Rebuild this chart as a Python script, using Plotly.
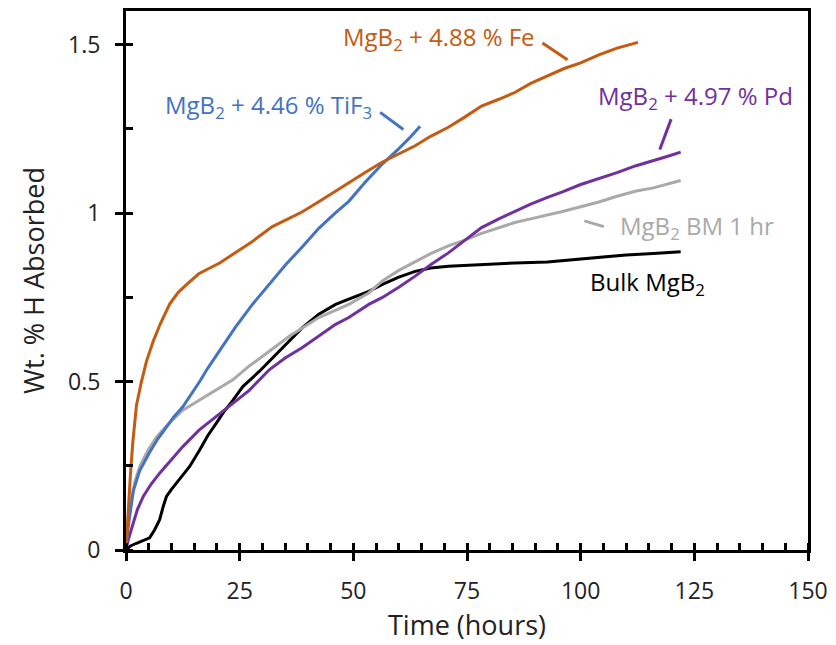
import plotly.graph_objects as go

# Hydrogen uptake of MgB2 samples, wt.% H vs time (hours)
fe_t = [0, 0.5, 1, 1.5, 2.3, 3.4, 4.5, 6, 7.5, 9.6, 11.5, 13.3, 16, 20.6, 24.2, 27.8,
        32.2, 35.1, 38.8, 42.4, 46, 49, 52.5, 56.3, 60, 63.6, 67, 70.9, 74.5, 78.2,
        82, 85.5, 89, 92.7, 96.5, 100, 104, 108, 112.6]
fe_w = [0, 0.12, 0.23, 0.32, 0.43, 0.5, 0.56, 0.62, 0.67, 0.73, 0.765, 0.788, 0.82,
        0.852, 0.885, 0.916, 0.96, 0.98, 1.004, 1.034, 1.065, 1.092, 1.12, 1.151,
        1.175, 1.2, 1.228, 1.255, 1.285, 1.318, 1.338, 1.358, 1.385, 1.407, 1.43,
        1.446, 1.47, 1.49, 1.507]

tif3_t = [0, 0.5, 1.6, 3, 5.2, 7, 8.9, 10.5, 12.5, 14, 16.2, 18, 20.6, 24, 27.8, 31.5,
          35.1, 38.8, 42.4, 46, 49, 52.5, 56.3, 59.9, 62.5, 64.7]
tif3_w = [0, 0.07, 0.175, 0.235, 0.29, 0.33, 0.365, 0.395, 0.425, 0.455, 0.5, 0.54,
          0.592, 0.66, 0.729, 0.79, 0.847, 0.9, 0.955, 1.0, 1.035, 1.09, 1.145, 1.19,
          1.225, 1.258]

bm_t = [0, 0.4, 0.9, 2, 3.1, 4.8, 6.7, 9, 12.5, 16.2, 19.5, 23.5, 27, 31.5, 36, 42.4,
        46, 49, 53.4, 56.3, 60, 63.6, 67, 70.9, 74.5, 78.2, 82, 85.5, 89, 92.7, 96,
        100, 104, 108, 112, 116, 119, 122]
bm_w = [0, 0.08, 0.13, 0.205, 0.25, 0.295, 0.335, 0.37, 0.415, 0.445, 0.47, 0.505,
        0.545, 0.59, 0.635, 0.69, 0.71, 0.729, 0.763, 0.798, 0.83, 0.857, 0.88, 0.903,
        0.92, 0.94, 0.957, 0.972, 0.983, 0.994, 1.005, 1.019, 1.033, 1.05, 1.065,
        1.075, 1.085, 1.097]

bulk_t = [0, 1, 2.3, 4, 5.2, 6.3, 7.4, 8.2, 8.9, 10, 11.1, 12.5, 14, 16.2, 18, 19.8,
          21.5, 23.5, 25.7, 29.3, 33, 38.8, 42.4, 46.1, 49, 53.4, 56.3, 60, 63.6, 67,
          70.9, 75, 78.2, 85.5, 92.7, 100, 105, 110, 116, 122]
bulk_w = [0, 0.012, 0.02, 0.03, 0.036, 0.06, 0.09, 0.13, 0.159, 0.18, 0.198, 0.22,
          0.248, 0.297, 0.34, 0.375, 0.41, 0.444, 0.485, 0.53, 0.58, 0.66, 0.7, 0.729,
          0.745, 0.768, 0.788, 0.81, 0.827, 0.837, 0.842, 0.845, 0.847, 0.852, 0.855,
          0.864, 0.872, 0.876, 0.88, 0.885]

pd_t = [0, 0.5, 1.6, 2.5, 3.8, 5.5, 7.4, 10, 12.5, 16, 19.8, 23.5, 27.1, 31.5, 35,
        38.8, 42.4, 46.1, 49, 53.4, 56.3, 60, 63.6, 67, 70.9, 74.5, 78.2, 82, 85.5,
        89, 92.7, 96, 100, 104, 108, 112, 116, 119, 122]
pd_w = [0, 0.03, 0.08, 0.12, 0.159, 0.195, 0.228, 0.27, 0.307, 0.355, 0.395, 0.435,
        0.474, 0.535, 0.57, 0.601, 0.635, 0.67, 0.69, 0.729, 0.749, 0.78, 0.813,
        0.847, 0.882, 0.92, 0.957, 0.983, 1.006, 1.027, 1.047, 1.063, 1.085, 1.102,
        1.12, 1.14, 1.155, 1.168, 1.181]

x_ticks = [0, 25, 50, 75, 100, 125, 150]
y_ticks = [0, 0.5, 1, 1.5]
y_ticktext = ["0", "0.5", "1", "1.5"]

ORANGE = "#C55A11"
BLUE = "#4472C4"
PURPLE = "#7030A0"
GREY = "#A9A9A9"
BLACK = "#000000"
FONT = "Open Sans"

series = [
    (bulk_t, bulk_w, BLACK, "Bulk MgB2"),
    (bm_t, bm_w, GREY, "MgB2 BM 1 hr"),
    (pd_t, pd_w, PURPLE, "MgB2 + 4.97 % Pd"),
    (tif3_t, tif3_w, BLUE, "MgB2 + 4.46 % TiF3"),
    (fe_t, fe_w, ORANGE, "MgB2 + 4.88 % Fe"),
]

fig = go.Figure()
for t, w, c, name in series:
    fig.add_trace(go.Scatter(x=t, y=w, mode="lines", name=name,
                             line=dict(color=c, width=3), showlegend=False))

# Labels with short leader lines
labels = [
    ("MgB<sub>2</sub> + 4.88 % Fe", 47.3, 1.52, ORANGE, (91.6, 1.505, 97.1, 1.455)),
    ("MgB<sub>2</sub> + 4.46 % TiF<sub>3</sub>", 8.1, 1.318, BLUE, (55.9, 1.299, 61.0, 1.248)),
    ("MgB<sub>2</sub> + 4.97 % Pd", 103.4, 1.344, PURPLE, (119.9, 1.279, 117.4, 1.189)),
    ("MgB<sub>2</sub> BM 1 hr", 108.2, 0.958, GREY, (100.8, 0.977, 105.1, 0.960)),
    ("Bulk MgB<sub>2</sub>", 101.6, 0.793, BLACK, None),
]
for text, x, y, c, lead in labels:
    fig.add_annotation(x=x, y=y, text=text, showarrow=False, xanchor="left",
                       yanchor="middle", font=dict(family=FONT, size=24, color=c))
    if lead:
        x0, y0, x1, y1 = lead
        fig.add_shape(type="line", x0=x0, y0=y0, x1=x1, y1=y1, xref="x", yref="y",
                      line=dict(color=c, width=3))

axis_common = dict(showgrid=False, zeroline=False, showline=True, linecolor="black",
                   linewidth=3, mirror=True, ticks="outside", ticklen=8, tickwidth=3,
                   tickcolor="black", tickfont=dict(family=FONT, size=23, color="#222"),
                   ticklabelstandoff=10)

fig.update_layout(
    width=836, height=645,
    margin=dict(l=126, r=24, t=8, b=95),
    paper_bgcolor="white", plot_bgcolor="white",
    xaxis=dict(range=[0, 150], tickvals=x_ticks, **axis_common,
               minor=dict(ticks="inside", dtick=5, ticklen=7, tickwidth=2.5, tickcolor="black"),
               title=dict(text="Time (hours)", font=dict(family=FONT, size=27, color="#222"),
                          standoff=12)),
    yaxis=dict(range=[0, 1.6], tickvals=y_ticks, ticktext=y_ticktext, **axis_common,
               minor=dict(ticks="inside", dtick=0.25, ticklen=7, tickwidth=2.5, tickcolor="black"),
               title=dict(text="Wt. % H Absorbed", font=dict(family=FONT, size=27, color="#222"),
                          standoff=16)),
    # inner halves of the major ticks so they cross the axis lines
    xaxis2=dict(range=[0, 150], overlaying="x", anchor="y", side="bottom",
                tickvals=x_ticks, ticks="inside", ticklen=8, tickwidth=3,
                tickcolor="black", showticklabels=False, showgrid=False,
                zeroline=False, showline=False),
    yaxis2=dict(range=[0, 1.6], overlaying="y", anchor="x", side="left",
                tickvals=y_ticks, ticks="inside", ticklen=8, tickwidth=3,
                tickcolor="black", showticklabels=False, showgrid=False,
                zeroline=False, showline=False),
)

fig.write_html("out.html")
